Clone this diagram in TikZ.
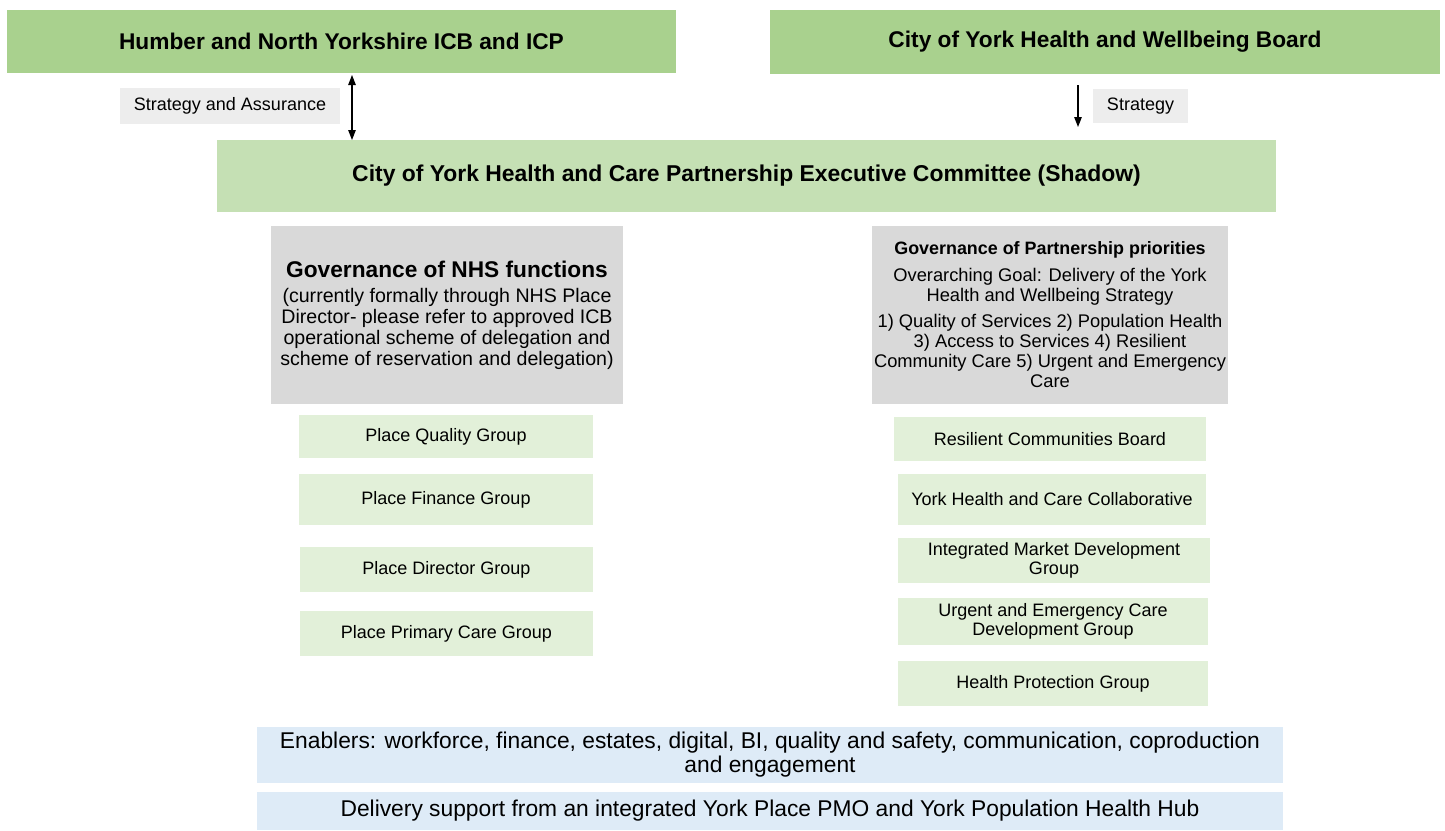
\documentclass[tikz,border=0pt]{standalone}
\usepackage{fontspec}
\setmainfont{Liberation Sans}
\usetikzlibrary{arrows.meta}
\definecolor{topgreen}{HTML}{A9D18E}
\definecolor{execgreen}{HTML}{C5E0B4}
\definecolor{subgreen}{HTML}{E2F0D9}
\definecolor{govgray}{HTML}{D9D9D9}
\definecolor{lblgray}{HTML}{EDEDED}
\definecolor{enblue}{HTML}{DEEBF7}
\begin{document}
\begin{tikzpicture}[x=1pt,y=-1pt,
  box/.style={inner sep=0pt, outer sep=0pt, align=center, text=black, anchor=center},
  topbox/.style={box, fill=topgreen, font=\fontsize{22.7}{26}\selectfont\bfseries},
  execbox/.style={box, fill=execgreen, font=\fontsize{22.9}{26}\selectfont\bfseries},
  govbox/.style={box, fill=govgray},
  subbox/.style={box, fill=subgreen, font=\fontsize{18}{19.5}\selectfont},
  lblbox/.style={box, fill=lblgray, font=\fontsize{18}{20}\selectfont},
  bluebox/.style={box, fill=enblue, font=\fontsize{22.8}{24}\selectfont},
  conn/.style={line width=1.2pt, black}
]
\useasboundingbox (0,0) rectangle (1445,830);

% top boxes
\node[topbox, minimum width=669pt, minimum height=63pt] (hny) at (341.5,41.5) {Humber and North Yorkshire ICB and ICP};
\node[topbox, minimum width=670pt, minimum height=64pt] (hwb) at (1105,42) {City of York Health and Wellbeing Board};

% labels
\node[lblbox, minimum width=220pt, minimum height=36pt] (sa) at (230,106) {Strategy and Assurance};
\node[lblbox, minimum width=95pt, minimum height=34pt] (st) at (1140.5,106) {Strategy};

% executive committee
\node[execbox, minimum width=1059pt, minimum height=72pt] (exec) at (746.5,176) {City of York Health and Care Partnership Executive Committee (Shadow)};

% arrows
\coordinate (ax) at (352,0);
\coordinate (sx) at (1078,0);
\draw[conn, {Triangle[length=10pt,width=7.5pt]}-{Triangle[length=10pt,width=7.5pt]}] ([yshift=-2pt]hny.south -| ax) -- (exec.north -| ax);
\draw[conn, -{Triangle[length=10pt,width=7.5pt]}] ([yshift=-11pt]hwb.south -| sx) -- ([yshift=13pt]exec.north -| sx);

% governance boxes
\node[govbox, minimum width=352pt, minimum height=178pt, font=\fontsize{19.6}{21}\selectfont] (gl) at (447,315)
  {{\fontsize{22.7}{25}\selectfont\bfseries Governance of NHS functions}\\[4pt]
   (currently formally through NHS Place\\
   Director- please refer to approved ICB\\
   operational scheme of delegation and\\
   scheme of reservation and delegation)};
\node[govbox, minimum width=356pt, minimum height=178pt, font=\fontsize{18.3}{20}\selectfont] (gr) at (1050,315)
  {{\fontsize{17.9}{20}\selectfont\bfseries Governance of Partnership priorities}\\[7pt]
   Overarching Goal: Delivery of the York\\
   Health and Wellbeing Strategy\\[6pt]
   1) Quality of Services 2) Population Health\\
   3) Access to Services 4) Resilient\\
   Community Care 5) Urgent and Emergency\\
   Care};

% left sub boxes
\node[subbox, minimum width=294pt, minimum height=43pt] (pqg) at (446,436.5) {Place Quality Group};
\node[subbox, minimum width=294pt, minimum height=51pt] (pfg) at (446,499.5) {Place Finance Group};
\node[subbox, minimum width=293pt, minimum height=45pt] (pdg) at (446.5,569.5) {Place Director Group};
\node[subbox, minimum width=293pt, minimum height=45pt] (ppg) at (446.5,633.5) {Place Primary Care Group};

% right sub boxes
\node[subbox, minimum width=312pt, minimum height=44pt] (rcb) at (1050,439) {Resilient Communities Board};
\node[subbox, minimum width=308pt, minimum height=51pt] (yhc) at (1052,499.5) {York Health and Care Collaborative};
\node[subbox, minimum width=312pt, minimum height=45pt] (imd) at (1054,560.5) {Integrated Market Development\\Group};
\node[subbox, minimum width=310pt, minimum height=47pt] (uec) at (1053,621.5) {Urgent and Emergency Care\\Development Group};
\node[subbox, minimum width=310pt, minimum height=45pt] (hpg) at (1053,683.5) {Health Protection Group};

% bottom boxes
\node[bluebox, minimum width=1026pt, minimum height=56pt] (en) at (770,755) {Enablers: workforce, finance, estates, digital, BI, quality and safety, communication, coproduction\\and engagement};
\node[bluebox, minimum width=1026pt, minimum height=38pt] (dl) at (770,811) {Delivery support from an integrated York Place PMO and York Population Health Hub};
\end{tikzpicture}
\end{document}
